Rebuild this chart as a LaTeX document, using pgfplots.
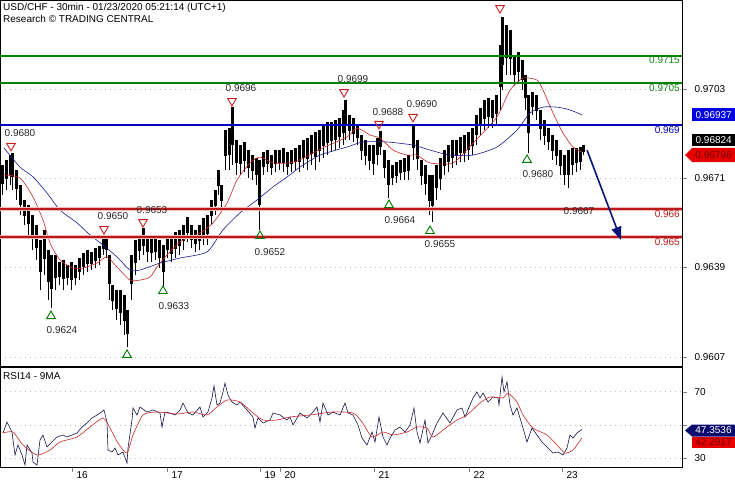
\documentclass[border=0pt]{standalone}
\usepackage{pgfplots}
\pgfplotsset{compat=1.18}
\usepackage{pgfplotstable}
\usepackage{fontspec}
\setmainfont{Liberation Sans}
\usetikzlibrary{arrows.meta}

\definecolor{levelgreen}{RGB}{20,135,20}
\definecolor{lvblue}{RGB}{0,0,190}
\definecolor{lvred}{RGB}{185,25,25}
\definecolor{lvpink}{RGB}{245,185,185}
\definecolor{mared}{RGB}{200,40,40}
\definecolor{mablue}{RGB}{25,25,140}
\definecolor{mkred}{RGB}{200,30,30}
\definecolor{mkgreen}{RGB}{0,120,0}
\definecolor{txtgray}{RGB}{40,40,40}
\definecolor{navyarrow}{RGB}{10,20,120}
\definecolor{boxblue}{RGB}{0,0,225}
\definecolor{boxred}{RGB}{230,0,0}
\definecolor{boxnavy}{RGB}{10,10,110}
\definecolor{rsiline}{RGB}{20,20,70}

\pgfplotstableread{
x lo hi
2 0.96650 0.96758
6 0.96668 0.96776
10 0.96686 0.96793
12 0.96668 0.96801
16 0.96632 0.96740
20 0.96578 0.96686
24 0.96543 0.96632
28 0.96507 0.96614
32 0.96453 0.96578
36 0.96417 0.96543
40 0.96310 0.96489
44 0.96363 0.96525
48 0.96274 0.96453
51 0.96245 0.96435
55 0.96310 0.96435
59 0.96328 0.96410
63 0.96310 0.96417
67 0.96328 0.96399
71 0.96310 0.96410
75 0.96328 0.96399
79 0.96345 0.96424
83 0.96363 0.96442
87 0.96374 0.96453
91 0.96381 0.96446
95 0.96388 0.96460
99 0.96399 0.96467
103 0.96435 0.96496
106 0.96424 0.96507
109 0.96274 0.96435
112 0.96238 0.96328
116 0.96202 0.96310
120 0.96184 0.96310
124 0.96148 0.96292
127 0.96105 0.96238
131 0.96274 0.96435
135 0.96363 0.96489
139 0.96417 0.96507
143 0.96435 0.96532
147 0.96410 0.96507
151 0.96410 0.96503
155 0.96417 0.96496
159 0.96388 0.96489
163 0.96320 0.96471
167 0.96424 0.96507
171 0.96410 0.96496
175 0.96424 0.96518
179 0.96435 0.96525
183 0.96453 0.96543
187 0.96482 0.96571
191 0.96460 0.96543
195 0.96446 0.96525
199 0.96453 0.96543
203 0.96471 0.96568
207 0.96471 0.96578
211 0.96543 0.96632
215 0.96578 0.96668
218 0.96650 0.96740
221 0.96596 0.96686
225 0.96740 0.96883
229 0.96740 0.96890
232 0.96758 0.96965
236 0.96722 0.96847
240 0.96722 0.96829
244 0.96733 0.96840
248 0.96711 0.96811
252 0.96704 0.96793
256 0.96686 0.96783
259 0.96525 0.96776
263 0.96722 0.96804
267 0.96733 0.96811
271 0.96722 0.96793
275 0.96733 0.96811
279 0.96740 0.96811
283 0.96733 0.96819
287 0.96722 0.96804
291 0.96733 0.96811
295 0.96740 0.96819
299 0.96733 0.96829
303 0.96747 0.96847
307 0.96740 0.96854
311 0.96758 0.96865
315 0.96740 0.96876
319 0.96768 0.96883
323 0.96783 0.96901
327 0.96793 0.96912
331 0.96804 0.96912
335 0.96811 0.96919
339 0.96819 0.96926
343 0.96829 0.96955
345 0.96847 0.96991
349 0.96847 0.96937
353 0.96840 0.96926
357 0.96829 0.96901
361 0.96776 0.96865
365 0.96758 0.96847
369 0.96740 0.96829
373 0.96722 0.96829
377 0.96758 0.96854
380 0.96793 0.96880
384 0.96711 0.96811
388 0.96639 0.96776
392 0.96686 0.96758
396 0.96693 0.96768
400 0.96704 0.96776
404 0.96704 0.96783
408 0.96704 0.96793
413 0.96776 0.96901
417 0.96740 0.96847
421 0.96686 0.96776
425 0.96650 0.96758
429 0.96578 0.96722
432 0.96553 0.96722
436 0.96632 0.96758
440 0.96668 0.96783
444 0.96722 0.96811
448 0.96733 0.96829
452 0.96747 0.96847
456 0.96758 0.96847
460 0.96768 0.96858
464 0.96768 0.96865
468 0.96776 0.96876
472 0.96793 0.96890
476 0.96829 0.96937
480 0.96865 0.96962
484 0.96883 0.96991
488 0.96890 0.96998
492 0.96890 0.96991
496 0.96901 0.97009
500 0.96955 0.97188
502 0.97026 0.97288
506 0.97080 0.97259
510 0.97080 0.97241
514 0.97044 0.97152
518 0.97052 0.97163
522 0.97026 0.97134
525 0.96955 0.97080
528 0.96801 0.97009
532 0.96937 0.97019
536 0.96919 0.97009
540 0.96847 0.96955
544 0.96829 0.96919
548 0.96811 0.96890
552 0.96776 0.96865
556 0.96758 0.96847
560 0.96722 0.96811
564 0.96686 0.96793
568 0.96675 0.96811
572 0.96722 0.96819
576 0.96733 0.96819
580 0.96740 0.96822
583 0.96793 0.96829
}\candles

\pgfplotstableread{
x y
3 0.96722
20 0.96711
33 0.96643
43 0.96560
50 0.96478
60 0.96417
73 0.96388
83 0.96388
97 0.96406
107 0.96428
117 0.96392
130 0.96345
140 0.96345
150 0.96356
160 0.96406
180 0.96482
200 0.96514
213 0.96550
227 0.96621
237 0.96704
250 0.96765
260 0.96786
273 0.96765
290 0.96765
300 0.96776
323 0.96819
347 0.96858
357 0.96890
370 0.96865
380 0.96854
393 0.96811
407 0.96793
417 0.96793
430 0.96765
453 0.96765
473 0.96836
497 0.96930
510 0.97026
523 0.97069
537 0.97062
543 0.97026
553 0.96944
563 0.96872
573 0.96822
582 0.96804
}\mared

\pgfplotstableread{
x y
4 0.96819
20 0.96750
33 0.96715
47 0.96657
60 0.96596
77 0.96550
90 0.96507
103 0.96471
117 0.96428
130 0.96381
140 0.96381
160 0.96406
180 0.96424
207 0.96446
223 0.96525
240 0.96586
257 0.96632
273 0.96679
290 0.96722
300 0.96750
320 0.96793
347 0.96822
363 0.96840
387 0.96840
413 0.96829
430 0.96811
450 0.96793
473 0.96793
497 0.96822
517 0.96883
530 0.96944
543 0.96965
557 0.96965
570 0.96955
582 0.96937
}\mablue

\pgfplotstableread{
x y
3 45.2
7 51.8
12 45.8
15 32.0
18 38.0
22 32.0
25 26.0
27 38.0
32 33.2
33 27.8
37 26.0
40 41.0
43 44.0
47 36.8
52 39.8
57 42.8
63 44.0
67 42.8
77 45.2
82 48.8
87 51.2
92 54.2
97 56.0
100 57.2
104 59.0
107 51.8
108 35.0
112 33.8
115 36.2
118 32.0
123 33.8
127 27.2
128 36.2
132 53.0
133 60.2
137 56.0
140 60.8
147 57.8
153 59.0
160 57.2
162 48.8
165 57.8
170 57.2
175 56.0
180 59.0
183 63.2
188 57.2
193 56.0
200 60.8
203 54.8
208 57.8
212 66.2
214 73.4
217 62.0
220 63.2
223 69.8
225 75.2
228 68.0
232 63.8
237 62.0
240 63.8
247 59.0
253 54.8
255 48.2
258 54.2
263 51.2
270 53.0
273 57.2
280 56.0
287 53.0
290 54.8
293 50.0
300 57.2
307 54.2
313 57.8
317 60.8
320 51.8
323 63.2
328 56.0
333 57.8
340 56.0
345 63.2
348 57.2
353 56.0
358 50.0
362 42.2
367 38.0
372 45.8
375 39.8
379 54.8
383 42.8
387 38.0
390 42.2
395 47.0
400 48.8
405 45.8
410 50.0
414 60.2
417 45.8
420 39.2
425 53.0
428 39.2
432 44.0
437 51.2
443 57.2
450 51.2
457 59.0
462 60.2
465 54.8
470 62.0
473 66.2
477 69.8
480 66.2
483 69.2
488 63.8
493 66.8
498 66.2
499 62.0
502 78.8
504 69.8
507 75.8
510 62.0
513 56.0
517 60.2
520 54.2
523 48.2
527 39.8
532 48.2
537 44.0
542 39.8
547 36.8
553 33.2
558 33.8
563 32.0
567 36.2
570 44.0
573 42.2
577 45.2
582 47.35
}\rsi

\pgfplotstableread{
x y
3 45.2
13 45.8
23 38.0
37 32.0
50 35.0
60 39.8
77 42.8
90 48.8
103 54.2
110 48.2
118 39.2
127 33.2
133 44.0
143 56.0
157 57.8
177 56.6
193 57.8
207 56.0
217 60.8
227 65.0
240 63.8
253 57.2
263 53.0
277 53.0
290 54.8
310 56.0
333 57.8
353 57.2
362 51.8
372 42.8
383 45.8
393 44.0
407 45.8
417 48.8
427 48.2
433 42.8
447 48.8
457 53.0
467 56.0
480 63.2
490 66.8
503 66.2
508 69.2
517 63.8
523 56.0
533 48.2
547 44.0
557 38.0
565 33.2
573 35.0
582 42.29
}\rsima

\begin{document}
\begin{tikzpicture}[font=\fontsize{10}{12}\selectfont]
\path[use as bounding box] (0pt,0pt) rectangle (735pt,480pt);
\pgfplotsset{
  every tick label/.append style={font=\fontsize{10}{12}\selectfont},
  dotgrid/.style={grid style={gray!55, dash pattern=on 1pt off 4pt}},
}
% ---------------- main panel ----------------
\begin{axis}[at={(0pt,114pt)}, anchor=south west, scale only axis,
  width=682pt, height=366pt,
  xmin=0, xmax=682, ymin=0.96037, ymax=0.97349,
  xtick=\empty,
  ytick={0.9607,0.9639,0.9671,0.9703},
  ytick pos=right, yticklabel pos=right,
  tick align=outside, major tick length=5pt,
  ymajorgrids, dotgrid,
  scaled y ticks=false,
  yticklabel style={/pgf/number format/fixed, /pgf/number format/precision=4,
    /pgf/number format/fixed zerofill, /pgf/number format/assume math mode=true,
    anchor=west, xshift=4pt},
  axis line style={black, line width=0.8pt},
  clip=false]
% candles: wicks (low to high)
\addplot[draw=none, mark=none, forget plot,
  error bars/.cd, y dir=plus, y explicit, error mark=none,
  error bar style={draw=black, line width=0.9pt}]
  table[x=x, y=lo, y error plus expr=\thisrow{hi}-\thisrow{lo}] {\candles};
% candles: bodies (upper part of each range)
\addplot[draw=none, mark=none, forget plot,
  error bars/.cd, y dir=minus, y explicit, error mark=none,
  error bar style={draw=black, line width=3pt}]
  table[x=x, y=hi, y error minus expr=0.65*(\thisrow{hi}-\thisrow{lo})] {\candles};
% moving averages
\addplot[mared, line width=0.6pt, smooth, tension=0.4] table[x=x,y=y] {\mared};
\addplot[mablue, line width=0.6pt, smooth, tension=0.4] table[x=x,y=y] {\mablue};
% levels
\addplot[color=green!50!black, line width=2pt, forget plot] table[row sep=\\] {x y\\ 0 0.9715\\ 682 0.9715\\};
\addplot[color=green!50!black, line width=2pt, forget plot] table[row sep=\\] {x y\\ 0 0.9705\\ 682 0.9705\\};
\draw[lvblue, line width=1.8pt] (axis cs:0,0.9690) -- (axis cs:682,0.9690);
\draw[lvpink, line width=4pt] (axis cs:0,0.9660) -- (axis cs:682,0.9660);
\draw[lvred, line width=1.8pt] (axis cs:0,0.9660) -- (axis cs:682,0.9660);
\draw[lvpink, line width=4pt] (axis cs:0,0.9650) -- (axis cs:682,0.9650);
\draw[lvred, line width=1.8pt] (axis cs:0,0.9650) -- (axis cs:682,0.9650);
\node[anchor=north east, text=levelgreen, inner sep=1pt] at (axis cs:681,0.9715) {0.9715};
\node[anchor=north east, text=levelgreen, inner sep=1pt] at (axis cs:681,0.9705) {0.9705};
\node[anchor=north east, text=lvblue, inner sep=1pt] at (axis cs:681,0.9690) {0.969};
\node[anchor=north east, text=lvred, inner sep=1pt] at (axis cs:681,0.9660) {0.966};
\node[anchor=north east, text=lvred, inner sep=1pt] at (axis cs:681,0.9650) {0.965};
% pivot markers
\addplot[only marks, mark=triangle, mark size=5pt, mark options={rotate=180, draw=mkred, line width=0.9pt}]
  coordinates {(11,0.96826) (104,0.96528) (143,0.96553) (232,0.96987) (344,0.97019) (379,0.96905) (413,0.96930) (500,0.97320)};
\addplot[only marks, mark=triangle, mark size=5pt, mark options={draw=mkgreen, line width=0.9pt}]
  coordinates {(51,0.96216) (127,0.96077) (163,0.96306) (260,0.96503) (389,0.96614) (430,0.96521) (527,0.96776)};
\node[text=txtgray, inner sep=0pt] at (axis cs:20,0.96872) {0.9680};
\node[text=txtgray, inner sep=0pt] at (axis cs:113,0.96575) {0.9650};
\node[text=txtgray, inner sep=0pt] at (axis cs:152,0.96596) {0.9653};
\node[text=txtgray, inner sep=0pt] at (axis cs:62,0.96166) {0.9624};
\node[text=txtgray, inner sep=0pt] at (axis cs:174,0.96252) {0.9633};
\node[text=txtgray, inner sep=0pt] at (axis cs:241,0.97034) {0.9696};
\node[text=txtgray, inner sep=0pt] at (axis cs:270,0.96446) {0.9652};
\node[text=txtgray, inner sep=0pt] at (axis cs:353,0.97066) {0.9699};
\node[text=txtgray, inner sep=0pt] at (axis cs:388,0.96948) {0.9688};
\node[text=txtgray, inner sep=0pt] at (axis cs:422,0.96976) {0.9690};
\node[text=txtgray, inner sep=0pt] at (axis cs:400,0.96560) {0.9664};
\node[text=txtgray, inner sep=0pt] at (axis cs:440,0.96474) {0.9655};
\node[text=txtgray, inner sep=0pt] at (axis cs:538,0.96725) {0.9680};
\node[text=txtgray, inner sep=0pt] at (axis cs:579,0.96593) {0.9667};
% forecast arrow
\addplot[navyarrow, line width=1.6pt, -{Triangle[length=13pt,width=10pt]}]
  coordinates {(587,0.96811) (621,0.96489)};
\end{axis}
% ---------------- RSI panel ----------------
\begin{axis}[at={(0pt,13pt)}, anchor=south west, scale only axis,
  width=682pt, height=100pt,
  xmin=0, xmax=682, ymin=24.8, ymax=84.8,
  ytick={30,50,70}, yticklabels={30,{},70},
  ytick pos=right, yticklabel pos=right,
  xtick={72,167,260,280,374,469,562},
  xticklabels={16,17,19,20,21,22,23},
  xtick pos=bottom,
  tick align=outside, major tick length=5pt,
  ymajorgrids, dotgrid,
  yticklabel style={/pgf/number format/assume math mode=true, anchor=west, xshift=4pt},
  xticklabel style={anchor=north west, xshift=1pt, yshift=4pt},
  axis line style={black, line width=0.8pt},
  clip=false]
\addplot[rsiline, line width=0.6pt] table[x=x,y=y] {\rsi};
\addplot[mared, line width=0.6pt, smooth, tension=0.4] table[x=x,y=y] {\rsima};
\end{axis}
% ---------------- header and value boxes ----------------
\node[anchor=north west, inner sep=0pt] at (3pt,477pt) {USD/CHF - 30min - 01/23/2020 05:21:14 (UTC+1)};
\node[anchor=north west, inner sep=0pt] at (3pt,465pt) {Research © TRADING CENTRAL};
\node[anchor=north west, inner sep=0pt] at (3pt,108pt) {RSI14 - 9MA};
\node[fill=boxblue, text=white, minimum width=43pt, minimum height=13pt, inner sep=0pt, anchor=west] at (692pt,365pt) {0.96937};
\node[fill=black, text=white, minimum width=43pt, minimum height=12pt, inner sep=0pt, anchor=west] at (692pt,340pt) {0.96824};
\fill[boxred] (685pt,325pt) -- (692pt,332pt) -- (735pt,332pt) -- (735pt,318pt) -- (692pt,318pt) -- cycle;
\node[text=red!45!black, inner sep=0pt] at (713.5pt,325pt) {0.96796};
\fill[boxnavy] (685pt,49.5pt) -- (692pt,55.5pt) -- (735pt,55.5pt) -- (735pt,43.5pt) -- (692pt,43.5pt) -- cycle;
\node[text=white, inner sep=0pt] at (713.5pt,49.5pt) {47.3536};
\fill[boxred] (692pt,43.5pt) rectangle (735pt,32.5pt);
\node[text=red!45!black, inner sep=0pt] at (713.5pt,38pt) {42.2917};
\end{tikzpicture}
\end{document}
